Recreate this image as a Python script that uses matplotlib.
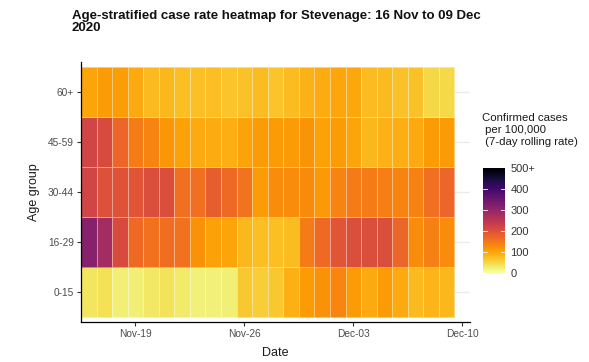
import numpy as np
import pandas as pd
import matplotlib
matplotlib.use("Agg")
import matplotlib.pyplot as plt
from matplotlib.colors import Normalize

plt.rcParams['font.family'] = ['Liberation Sans', 'DejaVu Sans']

# ---- data ----
dates = pd.date_range("2020-11-16", "2020-12-09", freq="D")
age_groups = ["0-15", "16-29", "30-44", "45-59", "60+"]

rate_0_15 = [35, 40, 25, 25, 32, 38, 30, 22, 22, 25, 65, 60,
             65, 88, 110, 120, 133, 110, 95, 110, 95, 80, 85, 82]
rate_16_29 = [315, 280, 210, 165, 158, 162, 158, 120, 105, 100, 82, 76,
              76, 78, 145, 165, 195, 205, 205, 205, 170, 125, 140, 125]
rate_30_44 = [220, 200, 198, 195, 205, 205, 160, 160, 180, 165, 155, 110,
              125, 125, 128, 112, 135, 145, 145, 142, 135, 138, 160, 170]
rate_45_59 = [220, 210, 170, 145, 135, 115, 105, 95, 92, 90, 102, 110,
              110, 110, 118, 105, 110, 100, 82, 86, 90, 95, 110, 110]
rate_60p = [100, 110, 108, 95, 80, 82, 75, 73, 75, 70, 72, 78,
            70, 78, 86, 92, 98, 96, 78, 80, 72, 72, 50, 48]

tick_dates = pd.to_datetime(["2020-11-19", "2020-11-26", "2020-12-03", "2020-12-10"])
cbar_ticks = [0, 100, 200, 300, 400, 500]
cbar_labels = ["0", "100", "200", "300", "400", "500+"]

title = "Age-stratified case rate heatmap for Stevenage: 16 Nov to 09 Dec\n2020"
legend_title = "Confirmed cases\n per 100,000\n (7-day rolling rate)"

# ---- figure ----
W, H = 589, 362
fig = plt.figure(figsize=(W / 100, H / 100), dpi=100)

def fx(px):
    return px / W

def fy(py):
    return 1 - py / H

left, right, top, bottom = 81, 470, 62, 322
ax = fig.add_axes([fx(left), fy(bottom), fx(right - left), (bottom - top) / H])

Z = np.array([rate_0_15, rate_16_29, rate_30_44, rate_45_59, rate_60p], dtype=float)
Z = np.clip(Z, 0, 500)
n = len(dates)
x_edges = np.arange(n + 1) - 0.5
y_edges = np.arange(len(age_groups) + 1) + 0.5
cmap = plt.get_cmap("inferno_r")
norm = Normalize(0, 500)
mesh = ax.pcolormesh(x_edges, y_edges, Z, cmap=cmap, norm=norm,
                     edgecolor=(1, 1, 1, 0.45), linewidth=0.5, zorder=2)

# grid (horizontal, at y ticks)
ax.set_yticks(np.arange(1, len(age_groups) + 1))
ax.set_yticklabels(age_groups)
ax.grid(axis="y", color="#EBEBEB", linewidth=1.0, zorder=0)
ax.set_axisbelow(True)

day_pos = [(d - dates[0]).days for d in tick_dates]
ax.set_xticks(day_pos)
ax.set_xticklabels([d.strftime("%b-%d") for d in tick_dates])

ax.set_xlim(-0.5, n + 0.5)
ax.set_ylim(0.4, len(age_groups) + 0.6)

for s in ["top", "right"]:
    ax.spines[s].set_visible(False)
for s in ["left", "bottom"]:
    ax.spines[s].set_color("black")
    ax.spines[s].set_linewidth(0.9)

ax.tick_params(axis="both", colors="#333333", labelcolor="#4D4D4D",
               labelsize=7.3, length=3, width=0.8, pad=2)

ax.set_xlabel("Date", fontsize=9, color="#1A1A1A", labelpad=6)
ax.set_ylabel("Age group", fontsize=9, color="#1A1A1A", labelpad=6)

fig.text(fx(72), fy(10), title, fontsize=9.5, fontweight="bold",
         ha="left", va="top", linespacing=1.0, color="#111111")

# legend title + colorbar
fig.text(fx(482), fy(113), legend_title, fontsize=8.2, ha="left", va="top",
         linespacing=1.25, color="#1A1A1A")
cax = fig.add_axes([fx(483), fy(273), fx(22), 105 / H])
cb = fig.colorbar(mesh, cax=cax, ticks=cbar_ticks)
cb.outline.set_visible(False)
cb.ax.set_yticklabels(cbar_labels)
cb.ax.tick_params(length=0, labelsize=8, labelcolor="#333333", pad=4)
for t in cbar_ticks[1:-1]:
    cb.ax.plot([0, 0.2], [t, t], color="white", linewidth=0.6, transform=cb.ax.get_yaxis_transform())
    cb.ax.plot([0.8, 1.0], [t, t], color="white", linewidth=0.6, transform=cb.ax.get_yaxis_transform())

fig.savefig("out.png", dpi=100)
